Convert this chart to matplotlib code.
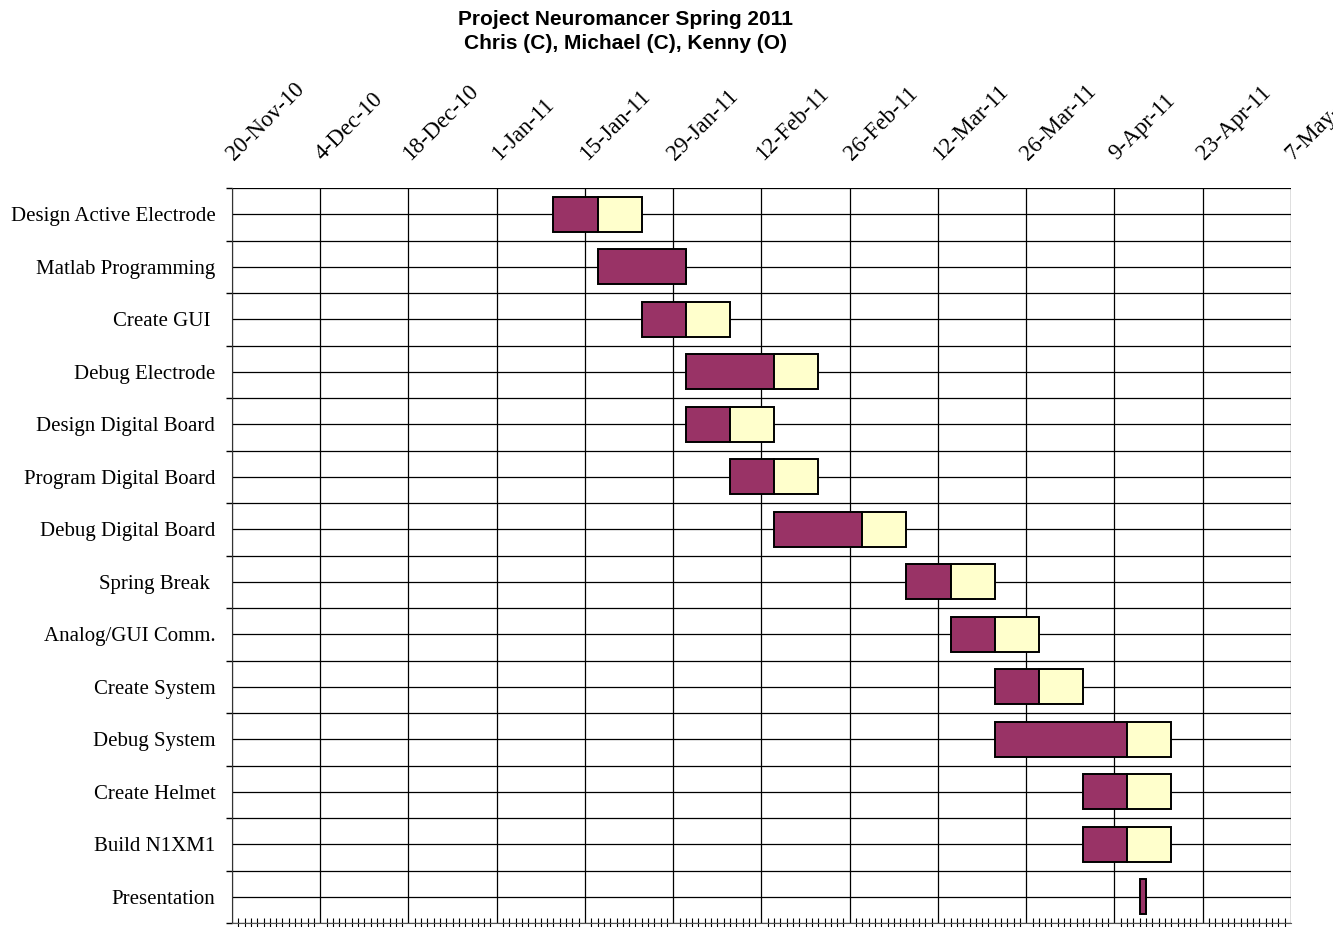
import pandas as pd
import matplotlib.pyplot as plt
import matplotlib.dates as mdates
from matplotlib.transforms import ScaledTranslation

# task data (start date, first phase days, second phase days)
tasks = ["Design Active Electrode", "Matlab Programming", "Create GUI ", "Debug Electrode",
         "Design Digital Board", "Program Digital Board", "Debug Digital Board", "Spring Break ",
         "Analog/GUI Comm.", "Create System", "Debug System", "Create Helmet",
         "Build N1XM1", "Presentation"]
starts = ["2011-01-10", "2011-01-17", "2011-01-24", "2011-01-31",
          "2011-01-31", "2011-02-07", "2011-02-14", "2011-03-07",
          "2011-03-14", "2011-03-21", "2011-03-21", "2011-04-04",
          "2011-04-04", "2011-04-13"]
phase1_days = [7, 14, 7, 14, 7, 7, 14, 7, 7, 7, 21, 7, 7, 1]
phase2_days = [7, 0, 7, 7, 7, 7, 7, 7, 7, 7, 7, 7, 7, 0]

tick_dates = pd.date_range("2010-11-20", "2011-05-07", freq="14D")
tick_labels = [f"{d.day}-{d.strftime('%b')}-{d.strftime('%y')}" for d in tick_dates]

purple = "#993366"
yellow = "#FFFFCC"

fig = plt.figure(figsize=(13.33, 9.27), dpi=100)
ax = fig.add_axes([232 / 1333, 4 / 927, (1291 - 232) / 1333, (923 - 188) / 927])

start_num = mdates.date2num(pd.to_datetime(starts))
rows = [i + 0.5 for i in range(len(tasks))]
ax.barh(rows, phase1_days, left=start_num, height=0.67, color=purple,
        edgecolor="black", linewidth=1.4, zorder=3)
p2_left = [s + d for s, d in zip(start_num, phase1_days)]
ax.barh(rows, phase2_days, left=p2_left, height=0.67, color=yellow,
        edgecolor="black", linewidth=1.4, zorder=3)

ax.set_xlim(mdates.date2num(tick_dates[0]), mdates.date2num(tick_dates[-1]))
ax.set_ylim(len(tasks), 0)

ax.set_xticks(mdates.date2num(tick_dates))
ax.set_xticklabels(tick_labels, rotation=45, ha="left", va="baseline",
                   rotation_mode="anchor", family="Liberation Serif", fontsize=16.5)
ax.set_xticks(mdates.date2num(pd.date_range("2010-11-20", "2011-05-07", freq="D")), minor=True)
ax.tick_params(axis="x", which="major", top=False, bottom=False, labeltop=True,
               labelbottom=False, pad=16)
ax.tick_params(axis="x", which="minor", bottom=True, direction="inout", length=7, width=0.8)
offset = ScaledTranslation(2 / 100, 0, fig.dpi_scale_trans)
for lbl in ax.get_xticklabels():
    lbl.set_transform(lbl.get_transform() + offset)

ax.set_yticks(range(len(tasks) + 1))
ax.set_yticklabels([])
ax.set_yticks(rows, minor=True)
ax.set_yticklabels(tasks, minor=True, family="Liberation Serif", fontsize=15)
ax.tick_params(axis="y", which="major", direction="out", length=4, width=1)
ax.tick_params(axis="y", which="minor", length=0, pad=12)

ax.grid(axis="x", which="major", color="black", linewidth=0.9, zorder=0)
ax.grid(axis="y", which="both", color="black", linewidth=0.9, zorder=0)
ax.set_axisbelow(True)

for s in ["top", "right"]:
    ax.spines[s].set_visible(False)
ax.spines["left"].set_color("#333333")
ax.spines["bottom"].set_color("#555555")

fig.text(625 / 1333, 1 - 10 / 927, "Project Neuromancer Spring 2011\nChris (C), Michael (C), Kenny (O)",
         ha="center", va="top", fontsize=15, fontweight="bold", family="Liberation Sans",
         linespacing=1.35)

fig.savefig("out.png", dpi=100)
